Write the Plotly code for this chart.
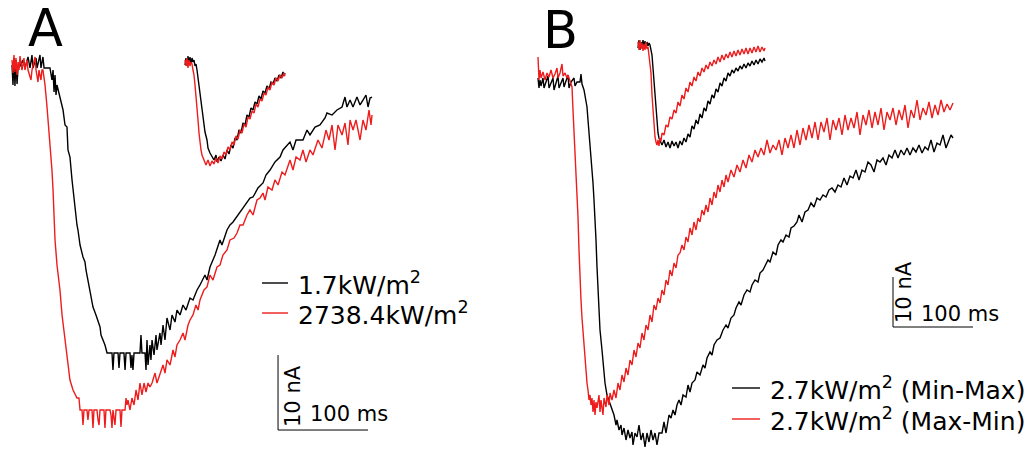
import plotly.graph_objects as go

# ---------------- DATA (time in ms, current in nA) ----------------
# Panel A, main traces
a_black = [(0,0.4),(1.1,-2.27),(2.2,1.33),(3.3,-2.4),(4.4,1.07),(5.6,-2.13),(6.7,0),(8.9,0.27),
 (12.2,1.07),(14.4,0),(17.8,1.47),(20,0),(22.2,1.73),(23.3,0),(26.7,1.33),(27.8,0),(31.1,1.73),(32.2,0),
 (34.4,1.47),(35.6,0),(42.2,0),(44.4,-1.6),(45.6,-0.27),(46.7,-3.2),(47.8,-0.93),(48.9,-3.6),(50,-2.27),
 (53.3,-4.0),(56.7,-5.6),(58.9,-7.6),(61.1,-7.87),(62.2,-10.93),(64.4,-11.87),(66.7,-14.93),(67.8,-16.27),
 (70,-18.27),(72.2,-20.93),(73.3,-21.6),(75.6,-23.6),(78.9,-25.2),(81.1,-25.87),(82.2,-26.93),(84.4,-28.27),
 (86.7,-29.6),(90,-31.87),(93.3,-32.93),(97.8,-34.53),(98.9,-35.6),(101.1,-36.27),(103.3,-36.93),(105.6,-38.0),
 (111.1,-38),(112.2,-40.27),(113.3,-38),(117.8,-38),(118.9,-40.0),(120,-38),(124.4,-38),(125.6,-40.27),
 (126.7,-38),(131.1,-38),(132.2,-40),(133.3,-38.27),(134.4,-40.27),(135.6,-38),(142.2,-38),(143.3,-35.6),
 (144.4,-38),(147.8,-38),(148.9,-40.27),(150,-36.27),(151.1,-39.6),(153.3,-36.93),(154.4,-38.93),(155.6,-36.27),
 (157.8,-38.27),(160,-35.6),(161.1,-37.6),(164.4,-35.33),(165.6,-36.93),(167.8,-34.27),(170,-36.27),
 (172.2,-33.33),(175.6,-34.93),(177.8,-32.93),(181.1,-33.87),(183.3,-32.27),(186.7,-32.93),(190,-31.6),
 (193.3,-32.27),(197.8,-30.67),(201.1,-30.93),(205.6,-29.6),(208.9,-28.93),(214.4,-27.6),(216.7,-28.27),
 (220,-26.53),(225.6,-24.93),(231.1,-22.93),(233.3,-23.6),(238.9,-21.6),(242.2,-20.93),(245.6,-20.53),
 (248.9,-20.0),(253.3,-19.33),(258.9,-18.27),(264.4,-17.33),(267.8,-17.2),(273.3,-16.0),(278.9,-15.33),
 (282.2,-14.27),(286.7,-13.6),(292.2,-12.53),(297.8,-11.87),(301.1,-10.93),(305.6,-10.27),(308.9,-9.87),
 (312.2,-10.93),(315.6,-9.6),(323.3,-9.6),(327.8,-8.27),(331.1,-8.93),(336.7,-7.87),(342.2,-7.6),(347.8,-6.67),
 (350,-6.0),(355.6,-6.27),(361.1,-5.6),(366.7,-5.2),(370,-3.87),(372.2,-5.2),(375.6,-4.27),(378.9,-5.2),
 (383.3,-3.87),(386.7,-4.93),(390,-4.27),(393.3,-3.6),(395.6,-5.2),(397.8,-4.0),(400,-3.87)]

a_red = [(0,1.07),(1.1,-0.67),(2.2,1.73),(3.3,-0.53),(4.4,1.33),(5.6,-0.93),(6.7,0.8),(7.8,-0.27),(8.9,1.6),
 (11.1,-0.27),(13.3,1.33),(14.4,-0.27),(16.7,1.07),(17.8,-0.27),(21.1,-1.6),(22.2,-0.27),(25.6,1.47),(26.7,-0.27),
 (28.9,-1.87),(30,-0.27),(32.2,-1.6),(33.3,-0.27),(34.4,-0.27),(36.7,-2.27),(38.9,-5.2),(40,-6.93),(42.2,-9.6),
 (44.4,-13.6),(45.6,-16.27),(46.7,-19.6),(47.8,-22.93),(50,-26.27),(53.3,-29.6),(55.6,-32.93),(58.9,-36.27),
 (62.2,-39.6),(64.4,-41.6),(67.8,-42.93),(70,-43.6),(72.2,-44.0),(74.4,-44.0),(75.6,-45.6),(77.8,-45.6),
 (78.9,-47.6),(80,-45.6),(83.3,-45.6),(84.4,-46.93),(85.6,-45.6),(88.9,-45.6),(90,-48.0),(91.1,-45.6),
 (94.4,-45.6),(95.6,-46.93),(96.7,-47.6),(97.8,-45.6),(102.2,-45.6),(103.3,-48),(104.4,-45.6),(108.9,-45.6),
 (110,-46.27),(111.1,-48),(112.2,-45.6),(114.4,-47.6),(115.6,-45.6),(120,-45.6),(121.1,-47.87),(122.2,-45.6),
 (125.6,-45.6),(126.7,-44.0),(127.8,-44.93),(128.9,-44.27),(131.1,-45.6),(133.3,-44),(135.6,-44.93),
 (137.8,-42.93),(140,-44.27),(142.2,-42.0),(144.4,-43.6),(146.7,-42),(148.9,-43.2),(151.1,-42),(153.3,-42.53),
 (155.6,-42),(158.9,-40.67),(161.1,-42),(164.4,-40.67),(167.8,-39.6),(170,-40.67),(172.2,-38.93),(175.6,-39.6),
 (178.9,-37.6),(181.1,-38.53),(183.3,-36.93),(186.7,-36.27),(190,-35.33),(192.2,-36.27),(195.6,-34.27),
 (197.8,-33.6),(201.1,-32.93),(204.4,-31.6),(206.7,-32.27),(208.9,-30.93),(213.3,-29.6),(216.7,-29.2),
 (220,-27.6),(223.3,-28.27),(227.8,-26.53),(231.1,-26.27),(234.4,-24.93),(238.9,-24.27),(242.2,-22.93),
 (246.7,-22.67),(250,-22.0),(253.3,-20.93),(256.7,-20.93),(261.1,-19.6),(264.4,-18.93),(267.8,-19.6),
 (272.2,-17.6),(275.6,-17.33),(278.9,-16.67),(281.1,-17.6),(284.4,-15.87),(288.9,-16.27),(292.2,-14.93),
 (295.6,-15.6),(300,-13.87),(303.3,-14.27),(306.7,-12.93),(308.9,-12.27),(312.2,-13.6),(315.6,-11.87),
 (320,-12.27),(323.3,-10.93),(326.7,-12.53),(331.1,-10.93),(334.4,-11.6),(340,-9.6),(344.4,-10.67),
 (348.9,-8.27),(352.2,-9.6),(355.6,-7.6),(358.9,-10.93),(362.2,-7.6),(366.7,-8.93),(370,-7.33),(373.3,-10.27),
 (375.6,-6.93),(378.9,-8.27),(382.2,-6.93),(386.7,-9.6),(390,-6.93),(393.3,-8.27),(396.7,-5.6),(398.9,-7.6),
 (400,-6.27)]

# Panel A, inset traces
a_ins_black = [(0,-1.2),(5,1.6),(10,-1.6),(15,2.4),(20,-0.4),(25,2.0),(30,-0.8),(35,1.6),(40,0),(45,0.8),
 (50,-1.6),(55,-0.8),(60,-3.2),(65,-6.4),(70,-9.2),(75,-11.2),(80,-15.2),(85,-19.2),(90,-22),(95,-25.2),
 (100,-28),(110,-31.2),(115,-34.4),(125,-36.4),(135,-38),(145,-39.2),(155,-37.2),(160,-40),(170,-38),
 (180,-39.6),(190,-37.2),(200,-38.8),(210,-35.2),(220,-36.8),(230,-33.2),(240,-34.4),(250,-30.4),(260,-31.2),
 (270,-27.2),(280,-28.4),(290,-24.4),(300,-25.2),(310,-21.2),(320,-22),(330,-18.4),(340,-19.2),(350,-16),
 (360,-16.8),(370,-13.6),(380,-14.8),(390,-11.6),(400,-12.4),(410,-9.6),(420,-10.8),(430,-8),(440,-8.8),
 (450,-6.4),(460,-7.6),(470,-5.2),(480,-6.4),(490,-4),(495,-5.6),(500,-4.4)]

a_ins_red = [(0,0.8),(5,-1.6),(10,1.6),(15,-2.4),(20,0.8),(25,-1.6),(30,0),(35,-0.8),(40,-3.2),(45,-5.2),
 (50,-9.2),(55,-13.2),(60,-18),(65,-23.2),(70,-28.4),(75,-32.4),(80,-35.2),(85,-37.2),(95,-39.2),(105,-41.2),
 (115,-39.2),(125,-41.6),(135,-39.6),(145,-40.8),(155,-38.4),(165,-40.4),(175,-37.6),(185,-38.8),(195,-36),
 (205,-37.2),(215,-34),(225,-35.2),(235,-32),(245,-33.2),(255,-29.6),(265,-30.8),(275,-27.2),(285,-28.4),
 (295,-24.8),(305,-26),(315,-22),(325,-22.8),(335,-19.6),(345,-20.4),(355,-16.8),(365,-18),(375,-14.8),
 (385,-15.6),(395,-12.4),(405,-13.2),(415,-10),(425,-11.2),(435,-8),(445,-9.2),(455,-6.4),(465,-7.6),
 (475,-5.2),(485,-6.4),(495,-4.4),(500,-5.6)]

# Panel B, main traces
b_black = [(0,0.8),(1.25,-1.2),(2.5,0.4),(3.75,-0.8),(6.25,0.8),(7.5,-1.2),(10,0),(12.5,1.2),(13.75,-1.2),
 (16.25,0),(18.75,0.8),(20,-1.6),(22.5,0),(25,1.2),(26.25,-1.2),(28.75,0),(31.25,0.8),(32.5,-1.0),(35,0),
 (37.5,1.4),(38.75,-1.2),(41.25,0),(45,0.8),(46.25,-0.8),(48.75,0),(52.5,0),(53.75,1.6),(55,-0.4),(57.5,-1.6),
 (60,-3.6),(61.25,-5.0),(62.5,-7.6),(65,-12.2),(67.5,-16.6),(68.75,-20.2),(70,-23.6),(71.25,-27.0),
 (72.5,-31.6),(73.75,-37.0),(75,-41.6),(76.25,-47.0),(77.5,-49.6),(80,-53.6),(82.5,-57.6),(83.75,-60.2),
 (86.25,-62.6),(90,-64.2),(92.5,-65.6),(95,-66.6),(97.5,-68.6),(98.75,-67.6),(101.25,-69.6),(103.75,-68.6),
 (105,-70.6),(107.5,-69.2),(110,-71.6),(112.5,-69.6),(115,-71.2),(117.5,-70.0),(118.75,-72.6),(121.25,-70.2),
 (123.75,-71.0),(126.25,-68.6),(128.75,-71.6),(131.25,-70.2),(133.75,-73.0),(136.25,-70.2),(138.75,-72.0),
 (141.25,-69.6),(143.75,-71.6),(146.25,-70.2),(148.75,-72.6),(151.25,-70.2),(155,-70.2),(157.5,-68.0),
 (160,-70.2),(161.25,-69.0),(163.75,-66.6),(166.25,-67.2),(168.75,-65.6),(171.25,-66.6),(173.75,-64.6),
 (176.25,-63.6),(178.75,-64.6),(181.25,-62.6),(185,-63.0),(187.5,-60.6),(190,-62.0),(192.5,-60.2),
 (196.25,-59.6),(198.75,-58.0),(202.5,-58.6),(206.25,-56.6),(208.75,-57.2),(211.25,-55.2),(215,-54.0),
 (217.5,-54.6),(220,-52.6),(223.75,-51.6),(227.5,-51.2),(231.25,-49.6),(235,-48.6),(237.5,-49.2),
 (241.25,-47.2),(245,-46.6),(247.5,-45.2),(251.25,-44.0),(253.75,-44.6),(257.5,-42.6),(261.25,-41.6),
 (265,-42.0),(267.5,-40.6),(271.25,-39.6),(275,-40.0),(277.5,-38.2),(281.25,-37.6),(283.75,-36.8),
 (287.5,-35.6),(290,-36.0),(293.75,-34.0),(297.5,-34.6),(300,-32.6),(303.75,-31.6),(306.25,-32.0),
 (310,-30.6),(313.75,-31.0),(316.25,-29.2),(320,-28.8),(323.75,-28.0),(326.25,-26.6),(330,-28.0),
 (333.75,-26.0),(337.5,-25.6),(341.25,-24.2),(345,-25.0),(348.75,-23.2),(352.5,-23.6),(356.25,-22.6),
 (360,-23.0),(363.75,-21.6),(367.5,-21.2),(371.25,-22.0),(375,-20.6),(378.75,-21.0),(382.5,-19.2),
 (386.25,-20.6),(390,-18.8),(393.75,-19.2),(397.5,-17.6),(401.25,-19.6),(405,-17.6),(408.75,-18.0),
 (412.5,-16.0),(416.25,-16.6),(420,-18.0),(423.75,-15.6),(427.5,-16.0),(431.25,-15.2),(435,-16.6),
 (438.75,-14.6),(442.5,-15.2),(446.25,-13.6),(450,-15.2),(453.75,-13.6),(457.5,-14.6),(461.25,-13.2),
 (465,-14.6),(468.75,-13.2),(472.5,-14.0),(476.25,-12.6),(480,-14.2),(483.75,-13.0),(487.5,-13.6),
 (491.25,-11.6),(495,-14.0),(498.75,-12.2),(502.5,-12.6),(506.25,-10.6),(510,-13.2),(513.75,-11.6),
 (516.25,-10.6),(518.75,-11.2)]

b_red = [(0,5.0),(1.25,0.4),(2.5,2.4),(3.75,0.8),(6.25,2.0),(8.75,0.4),(11.25,1.8),(13.75,1.0),(16.25,2.4),
 (18.75,0.8),(21.25,1.6),(23.75,2.8),(25,0.8),(27.5,1.8),(30,3.6),(31.25,1.2),(33.75,1.8),(36.25,0.8),
 (37.5,1.4),(40,0.4),(42.5,-1.0),(43.75,-5.6),(45,-9.6),(46.25,-13.6),(47.5,-18.6),(48.75,-23.6),(50,-27.0),
 (51.25,-33.6),(52.5,-40.2),(53.75,-43.6),(55,-47.2),(56.25,-50.2),(58.75,-55.6),(61.25,-60.2),(62.5,-61.6),
 (63.75,-63.6),(65,-62.6),(66.25,-64.6),(67.5,-63.2),(68.75,-66.0),(70,-63.6),(71.25,-66.6),(72.5,-64.0),
 (73.75,-65.2),(76.25,-62.6),(77.5,-66.0),(78.75,-63.6),(81.25,-66.6),(82.5,-63.2),(85,-65.0),(86.25,-62.6),
 (88.75,-64.6),(90,-62.2),(92.5,-63.6),(95,-61.6),(97.5,-63.2),(100,-60.2),(102.5,-61.6),(105,-58.6),
 (107.5,-60.0),(110,-57.2),(112.5,-58.6),(115,-55.6),(117.5,-56.6),(120,-53.6),(122.5,-55.0),(125,-52.2),
 (127.5,-53.2),(130,-50.2),(132.5,-51.6),(135,-48.6),(137.5,-49.6),(140,-46.6),(142.5,-48.0),(145,-44.6),
 (147.5,-45.6),(150,-43.2),(152.5,-44.2),(155,-41.6),(157.5,-42.6),(160,-39.6),(162.5,-40.6),(165,-37.6),
 (167.5,-38.8),(170,-36.2),(172.5,-37.2),(175,-34.6),(177.5,-34.2),(180,-32.6),(182.5,-33.6),(185,-31.0),
 (187.5,-32.0),(190,-29.2),(192.5,-30.6),(195,-28.0),(197.5,-29.6),(200,-27.2),(202.5,-28.0),(205,-25.6),
 (207.5,-26.6),(210,-24.6),(212.5,-26.0),(215,-23.2),(217.5,-24.6),(220,-22.0),(222.5,-23.2),(225,-20.6),
 (227.5,-22.0),(230,-19.6),(232.5,-21.0),(235,-18.6),(237.5,-20.0),(241.25,-17.6),(245,-19.0),(248.75,-16.6),
 (252.5,-18.0),(256.25,-15.6),(260,-17.2),(263.75,-14.6),(267.5,-16.0),(271.25,-13.6),(275,-15.0),
 (278.75,-13.2),(282.5,-14.6),(286.25,-11.6),(290,-14.2),(293.75,-12.6),(297.5,-13.6),(301.25,-11.6),
 (305,-14.6),(308.75,-11.2),(312.5,-13.2),(316.25,-10.6),(320,-13.2),(323.75,-9.6),(327.5,-12.6),
 (331.25,-9.2),(335,-11.6),(338.75,-8.6),(342.5,-11.2),(346.25,-8.0),(350,-11.6),(353.75,-8.0),(357.5,-10.0),
 (361.25,-7.2),(365,-11.6),(368.75,-7.6),(372.5,-9.6),(376.25,-7.2),(380,-10.6),(383.75,-6.6),(387.5,-9.6),
 (391.25,-7.2),(395,-9.2),(398.75,-6.0),(402.5,-10.6),(406.25,-6.6),(410,-8.6),(413.75,-5.6),(417.5,-9.2),
 (421.25,-6.0),(425,-8.6),(428.75,-5.2),(432.5,-9.6),(436.25,-6.0),(440,-7.6),(443.75,-5.2),(447.5,-8.6),
 (451.25,-5.6),(455,-7.6),(458.75,-4.6),(462.5,-9.2),(466.25,-5.6),(470,-7.2),(473.75,-3.6),(477.5,-7.6),
 (481.25,-5.2),(485,-6.6),(488.75,-4.0),(492.5,-7.2),(496.25,-4.6),(500,-6.6),(503.75,-3.6),(507.5,-6.0),
 (511.25,-4.4),(515,-5.6),(518.75,-4.2)]

# Panel B, inset traces
b_ins_black = [(0,-1.5),(5,2.5),(10,-2.5),(15,1.5),(20,-1.5),(25,2.5),(30,-1),(35,2),(40,-1.5),(45,1.5),
 (50,-0.5),(55,1),(60,0),(65,-2.5),(70,-5),(75,-11.5),(80,-17.5),(85,-25),(90,-34),(95,-40),(100,-44),
 (105,-46.5),(110,-47.5),(120,-50),(130,-47.5),(140,-51),(150,-48.5),(160,-51.5),(170,-48),(180,-50.5),
 (190,-48.5),(200,-51.5),(210,-48),(220,-50),(230,-46.5),(240,-48.5),(250,-44.5),(260,-46),(270,-40.5),
 (280,-42),(290,-37.5),(300,-39.5),(310,-34.5),(320,-36.5),(330,-31.5),(340,-33),(350,-28),(360,-29.5),
 (370,-25),(380,-26.5),(390,-22),(400,-23.5),(410,-19),(420,-20.5),(430,-16.5),(440,-18),(450,-14),
 (460,-15.5),(470,-12.5),(480,-14),(490,-11.5),(500,-13),(510,-10.5),(520,-12),(530,-9.5),(540,-11.5),
 (550,-9),(560,-10.5),(570,-8),(580,-10),(590,-7.5),(600,-9.5),(610,-7),(620,-8.5),(630,-6.5),(635,-8)]

b_ins_red = [(0,1.5),(5,-2.5),(10,2.5),(15,-2),(20,1),(25,-3),(30,0.5),(35,-2.5),(40,1.5),(45,-2),(50,-1),
 (55,-5),(60,-8.5),(65,-14),(70,-25),(75,-34),(80,-41.5),(85,-46),(90,-48.5),(95,-50),(100,-47.5),
 (105,-50.5),(110,-46.5),(115,-48),(120,-44),(130,-45),(140,-40),(150,-41),(160,-36),(170,-37),(180,-32.5),
 (190,-34),(200,-28.5),(210,-30.5),(220,-25),(230,-27),(240,-21.5),(250,-23.5),(260,-18.5),(270,-20.5),
 (280,-16),(290,-18),(300,-13.5),(310,-15.5),(320,-11.5),(330,-13.5),(340,-10),(350,-12),(360,-8.5),
 (370,-10.5),(380,-7.5),(390,-9.5),(400,-6),(410,-8.5),(420,-5),(430,-7.5),(440,-4.5),(450,-6.5),(460,-3.5),
 (470,-6),(480,-3),(490,-5.5),(500,-2.5),(510,-5),(520,-2),(530,-4.5),(540,-1.5),(550,-4.5),(560,-1.5),
 (570,-4),(580,-1),(590,-3.5),(600,-0.5),(610,-3.5),(620,-1),(630,-3),(635,-1.5)]

legend_a = ["1.7kW/m<sup>2</sup>", "2738.4kW/m<sup>2</sup>"]
legend_b = ["2.7kW/m<sup>2</sup> (Min-Max)", "2.7kW/m<sup>2</sup> (Max-Min)"]
panel_labels = ["A", "B"]
scale_t_ms = 100
scale_i_na = 10

# ---------------- STYLE / LAYOUT ----------------
W, H = 1027, 451
BLACK = "#000000"
RED = "#ee1c1c"
FONT = "DejaVu Sans"

fig = go.Figure()

def add(series, color, xa, ya):
    fig.add_trace(go.Scatter(
        x=[p[0] for p in series], y=[p[1] for p in series],
        mode="lines", line=dict(color=color, width=1.4), xaxis=xa, yaxis=ya,
        showlegend=False, hoverinfo="skip"))

add(a_black, BLACK, "x", "y")
add(a_red, RED, "x", "y")
add(a_ins_black, BLACK, "x2", "y2")
add(a_ins_red, RED, "x2", "y2")
add(b_black, BLACK, "x3", "y3")
add(b_red, RED, "x3", "y3")
add(b_ins_black, BLACK, "x4", "y4")
add(b_ins_red, RED, "x4", "y4")

def ax(domain, rng, anchor):
    return dict(domain=domain, range=rng, anchor=anchor, visible=False, fixedrange=True)

fig.update_layout(
    width=W, height=H, margin=dict(l=0, r=0, t=0, b=0),
    paper_bgcolor="white", plot_bgcolor="rgba(0,0,0,0)",
    font=dict(family=FONT, color="black"),
    xaxis=ax([0, 0.5], [-13.333, 557.22], "y"),
    yaxis=ax([0, 1], [-51.067, 9.067], "x"),
    xaxis2=ax([0, 0.5], [-925, 1642.5], "y2"),
    yaxis2=ax([0, 1], [-155.6, 24.8], "x2"),
    xaxis3=ax([0.5, 1], [-30.625, 611.25], "y3"),
    yaxis3=ax([0, 1], [-73.8, 16.4], "x3"),
    xaxis4=ax([0.5, 1], [-622.5, 1945], "y4"),
    yaxis4=ax([0, 1], [-203, 22.5], "x4"),
)

shapes = []
anns = []
# scale bars (corner positions in data units)
for (xr, yr, t0, i0) in [("x", "y", 295.6, -48.27), ("x3", "y3", 443.75, -49.0)]:
    shapes.append(dict(type="line", xref=xr, yref=yr, x0=t0, x1=t0, y0=i0, y1=i0 + scale_i_na,
                       line=dict(color=BLACK, width=1)))
    shapes.append(dict(type="line", xref=xr, yref=yr, x0=t0, x1=t0 + scale_t_ms, y0=i0, y1=i0,
                       line=dict(color=BLACK, width=1)))

def P(px, py):
    return px / W, 1 - py / H

for (lx, ly, text, ang) in [(293, 396, f"{scale_i_na} nA", -90), (349, 414, f"{scale_t_ms} ms", 0),
                            (904, 292, f"{scale_i_na} nA", -90), (960, 314, f"{scale_t_ms} ms", 0)]:
    x, y = P(lx, ly)
    anns.append(dict(x=x, y=y, xref="paper", yref="paper", text=text, showarrow=False, textangle=ang,
                     xanchor="center", yanchor="middle", font=dict(size=21, family=FONT, color="black")))

for (x0, x1, tx, rows) in [(262, 288, 296, [(283, BLACK, legend_a[0]), (313, RED, legend_a[1])]),
                           (732, 760, 768, [(388, BLACK, legend_b[0]), (419, RED, legend_b[1])])]:
    for (yy, col, txt) in rows:
        a0, b0 = P(x0, yy)
        a1, _ = P(x1, yy)
        shapes.append(dict(type="line", xref="paper", yref="paper", x0=a0, x1=a1, y0=b0, y1=b0,
                           line=dict(color=col, width=1.4)))
        tx_, ty_ = P(tx, yy)
        anns.append(dict(x=tx_, y=ty_, xref="paper", yref="paper", text=txt, showarrow=False,
                         xanchor="left", yanchor="middle", font=dict(size=25, family=FONT, color="black")))

for (lx, ly, lab) in [(45, 28, panel_labels[0]), (560, 30, panel_labels[1])]:
    x, y = P(lx, ly)
    anns.append(dict(x=x, y=y, xref="paper", yref="paper", text=lab, showarrow=False, borderpad=0,
                     xanchor="center", yanchor="middle", font=dict(size=51, family=FONT, color="black")))

fig.update_layout(shapes=shapes, annotations=anns)
fig.write_html("out.html", config={"displayModeBar": False},
               post_script="document.body.style.margin='0';document.body.style.overflow='hidden';")
